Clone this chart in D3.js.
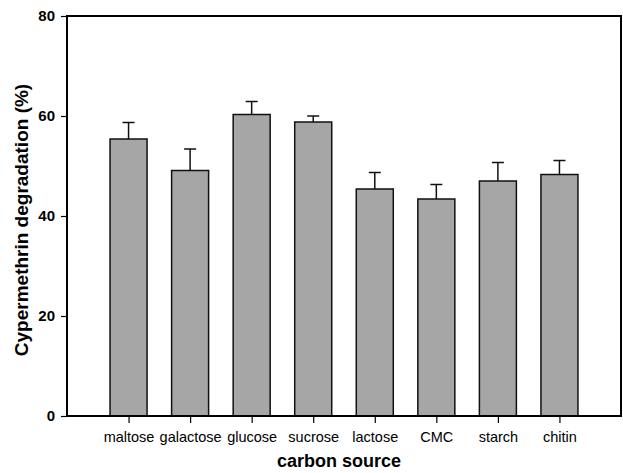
<!DOCTYPE html>
<html><head><meta charset="utf-8">
<script src="https://cdn.jsdelivr.net/npm/d3@7"></script>
<style>body{margin:0;background:#fff}svg{display:block}text{font-family:Arial,"Liberation Sans",sans-serif}</style>
</head><body><svg id="c" width="623" height="473"></svg>
<script>
const categories = ["maltose","galactose","glucose","sucrose","lactose","CMC","starch","chitin"];
const values = [55.4, 49.1, 60.3, 58.8, 45.4, 43.4, 47.0, 48.3];
const errors = [3.3, 4.3, 2.6, 1.2, 3.3, 2.9, 3.7, 2.8];
const yTicks = [0, 20, 40, 60, 80];

const svg = d3.select("#c");
const L = 67, R = 621, T = 16, B = 416;
const x = d3.scalePoint().domain(categories).range([L, R]).padding(1);
const y = d3.scaleLinear().domain([0, 80]).range([B, T]);
const bw = 37;

// bars
svg.append("g").selectAll("rect").data(categories).join("rect")
  .attr("x", d => x(d) - bw/2).attr("width", bw)
  .attr("y", (d,i) => y(values[i])).attr("height", (d,i) => B - y(values[i]))
  .attr("fill", "#a6a6a6").attr("stroke", "#111").attr("stroke-width", 1.5);

// error bars
const eg = svg.append("g").attr("stroke", "#111").attr("stroke-width", 1.5);
categories.forEach((c,i) => {
  eg.append("line").attr("x1", x(c)).attr("x2", x(c)).attr("y1", y(values[i])).attr("y2", y(values[i]+errors[i]));
  eg.append("line").attr("x1", x(c)-6).attr("x2", x(c)+6).attr("y1", y(values[i]+errors[i])).attr("y2", y(values[i]+errors[i]));
});

// frame
svg.append("rect").attr("x", L).attr("y", T).attr("width", R-L).attr("height", B-T)
  .attr("fill", "none").attr("stroke", "#000").attr("stroke-width", 2);

// y axis
const ya = svg.append("g").attr("transform", `translate(${L},0)`)
  .call(d3.axisLeft(y).tickValues(yTicks).tickSize(6).tickPadding(6).tickFormat(d3.format("d")));
ya.select(".domain").remove();
ya.selectAll("line").attr("stroke", "#000").attr("stroke-width", 1.2);
ya.selectAll("text").attr("font-size", 15).attr("font-weight", "bold").attr("fill", "#000")
  .style("font-family", 'Arial,"Liberation Sans",sans-serif');

// x axis
const xa = svg.append("g").attr("transform", `translate(0,${B})`)
  .call(d3.axisBottom(x).tickSize(7).tickPadding(9));
xa.select(".domain").remove();
xa.selectAll("line").attr("stroke", "#000").attr("stroke-width", 1.2);
xa.selectAll("text").attr("font-size", 14.5).attr("fill", "#000")
  .style("font-family", 'Arial,"Liberation Sans",sans-serif');

// titles
svg.append("text").attr("x", (L+R)/2 - 5).attr("y", 467).attr("text-anchor", "middle")
  .attr("font-size", 18).attr("font-weight", "bold").text("carbon source");
svg.append("text").attr("transform", "translate(28,220) rotate(-90)").attr("text-anchor", "middle")
  .attr("font-size", 19).attr("font-weight", "bold").text("Cypermethrin degradation (%)");
</script></body></html>
